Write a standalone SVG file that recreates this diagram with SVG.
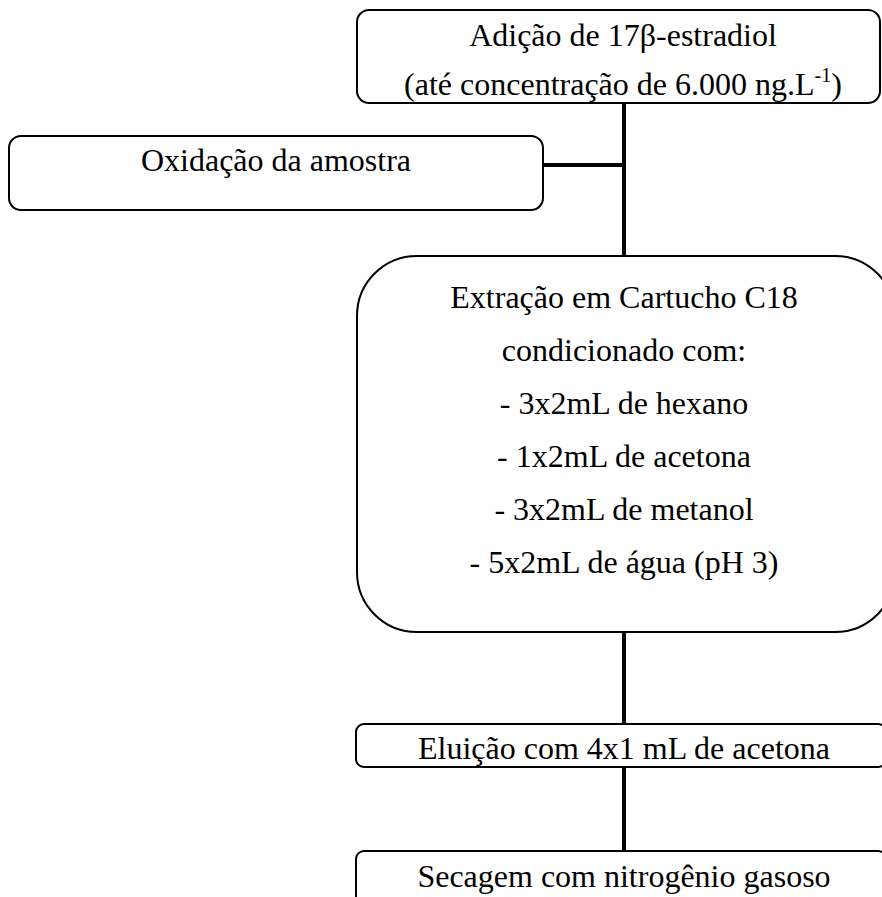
<svg xmlns="http://www.w3.org/2000/svg" width="882" height="897" viewBox="0 0 882 897">
<style>
.box{fill:#fff;stroke:#000;stroke-width:2}
.t{font-family:"Liberation Serif","Times New Roman",serif;font-size:32px;fill:#000;text-anchor:middle}
.c{stroke:#000;stroke-width:4;fill:none}
</style>
<rect width="882" height="897" fill="#fff"/>
<g id="connectors">
<line class="c" x1="624" y1="103" x2="624" y2="257"/>
<line class="c" x1="543" y1="165" x2="624" y2="165"/>
<line class="c" x1="624" y1="631" x2="624" y2="724"/>
<line class="c" x1="624" y1="767" x2="624" y2="851"/>
</g>
<g id="adicao">
<rect class="box" x="357" y="10" width="523" height="93" rx="12"/>
<text class="t" x="623" y="46">Adição de 17β-estradiol</text>
<text class="t" x="623" y="95">(até concentração de 6.000 ng.L<tspan font-size="20" dy="-13">-1</tspan><tspan dy="13">)</tspan></text>
</g>
<g id="oxidacao">
<rect class="box" x="9" y="136" width="534" height="74" rx="12"/>
<text class="t" x="276" y="171">Oxidação da amostra</text>
</g>
<g id="extracao">
<rect class="box" x="357" y="256" width="538" height="376" rx="60"/>
<text class="t" x="624" y="308">Extração em Cartucho C18</text>
<text class="t" x="624" y="361">condicionado com:</text>
<text class="t" x="624" y="414">- 3x2mL de hexano</text>
<text class="t" x="624" y="467">- 1x2mL de acetona</text>
<text class="t" x="624" y="520">- 3x2mL de metanol</text>
<text class="t" x="624" y="573">- 5x2mL de água (pH 3)</text>
</g>
<g id="eluicao">
<rect class="box" x="356" y="724" width="530" height="43" rx="8"/>
<text class="t" x="624" y="759">Eluição com 4x1 mL de acetona</text>
</g>
<g id="secagem">
<rect class="box" x="356" y="851" width="530" height="60" rx="8"/>
<text class="t" x="624" y="887">Secagem com nitrogênio gasoso</text>
</g>
</svg>
